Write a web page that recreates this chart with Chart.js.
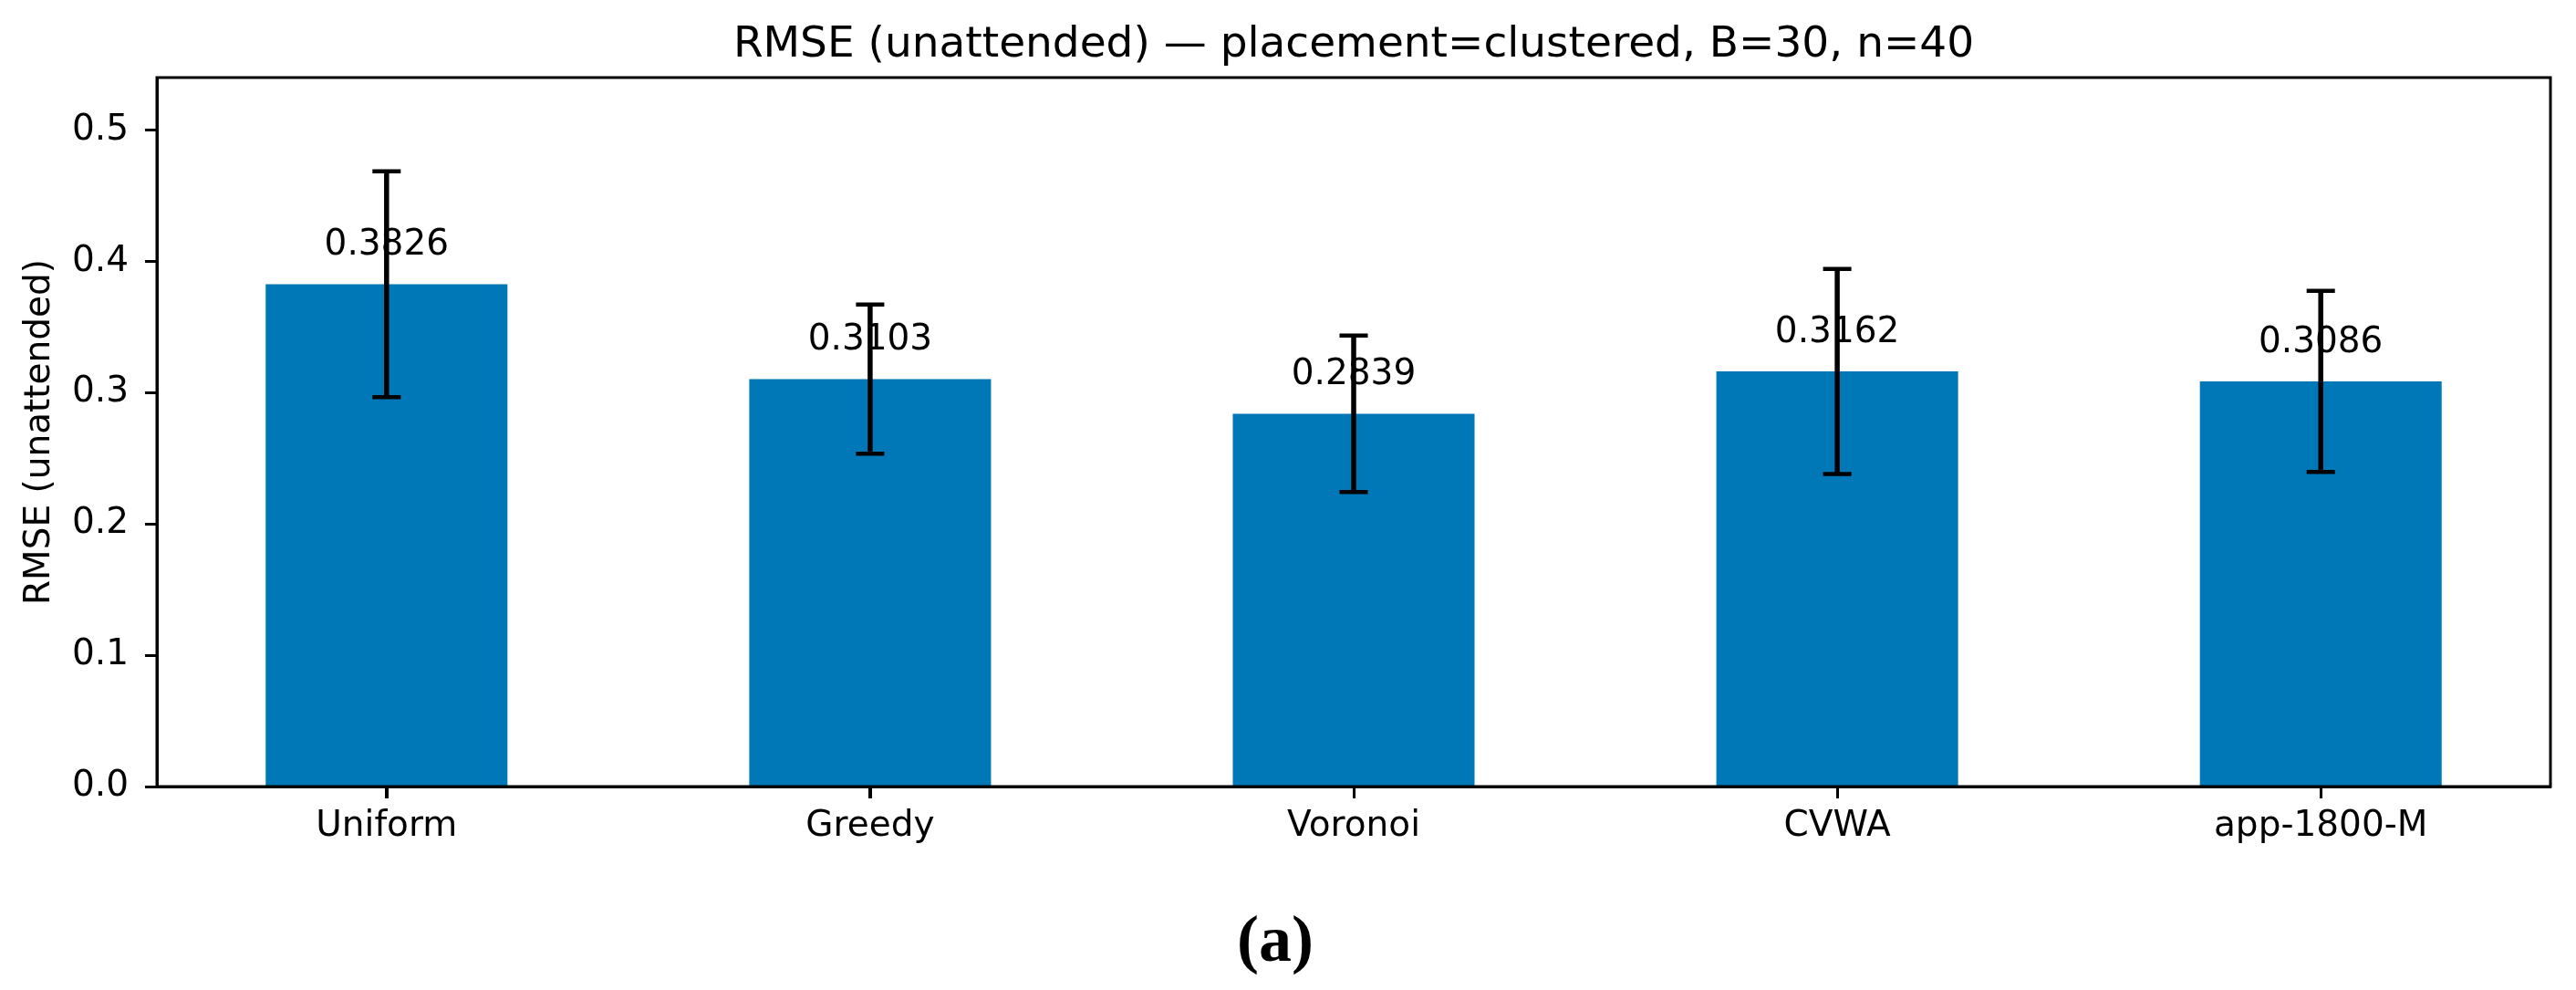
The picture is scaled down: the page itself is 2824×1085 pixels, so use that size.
<!DOCTYPE html>
<html>
<head>
<meta charset="utf-8">
<title>RMSE (unattended)</title>
<script src="https://cdn.jsdelivr.net/npm/chart.js@4.4.1/dist/chart.umd.min.js"></script>
<style>
  html, body { margin: 0; padding: 0; background: #fff; }
  canvas { display: block; }
</style>
</head>
<body>
<canvas id="rmseChart" width="2824" height="1085" style="width:2824px;height:1085px"></canvas>
<script>
// ==========================
// Data
// ==========================
const categories = ["Uniform", "Greedy", "Voronoi", "CVWA", "app-1800-M"];
const rmseValues = [0.3826, 0.3103, 0.2839, 0.3162, 0.3086];
const rmseErrors = [0.0860, 0.0568, 0.0596, 0.0781, 0.0690];
const yTicks = [0.0, 0.1, 0.2, 0.3, 0.4, 0.5];

const chartTitle = "RMSE (unattended) \u2014 placement=clustered, B=30, n=40";
const yAxisTitle = "RMSE (unattended)";
const caption = "(a)";

const SANS = "'DejaVu Sans', sans-serif";
const BAR_BLUE = "#0077b7";


// ==================================
// Frame, error bars and value labels
// ==================================
const annotatePlugin = {
    id: "annotate",
    afterDatasetsDraw(chart) {
        const { ctx, chartArea, scales } = chart;
        const xs = scales.x, ys = scales.y;

        ctx.save();

        // value labels above each bar
        ctx.fillStyle = "#000";
        ctx.font = "39px " + SANS;
        ctx.textAlign = "center";
        ctx.textBaseline = "alphabetic";
        rmseValues.forEach((v, i) => {
            ctx.fillText(v.toFixed(4), xs.getPixelForValue(i), ys.getPixelForValue(v + 0.0223));
        });

        // error bars with caps
        ctx.strokeStyle = "#000";
        rmseValues.forEach((v, i) => {
            const x = xs.getPixelForValue(i);
            const yTop = ys.getPixelForValue(v + rmseErrors[i]);
            const yBot = ys.getPixelForValue(v - rmseErrors[i]);

            ctx.lineWidth = 5.5;
            ctx.beginPath();
            ctx.moveTo(x, yTop);
            ctx.lineTo(x, yBot);
            ctx.stroke();

            ctx.lineWidth = 4.5;
            ctx.beginPath();
            ctx.moveTo(x - 15.5, yTop);
            ctx.lineTo(x + 15.5, yTop);
            ctx.moveTo(x - 15.5, yBot);
            ctx.lineTo(x + 15.5, yBot);
            ctx.stroke();
        });

        // category tick marks under the x axis
        ctx.lineWidth = 3;
        ctx.beginPath();
        categories.forEach((c, i) => {
            const x = Math.round(xs.getPixelForValue(i)) + 0.5;
            ctx.moveTo(x, chartArea.bottom);
            ctx.lineTo(x, chartArea.bottom + 13);
        });
        ctx.stroke();

        // full box around the plot, like matplotlib spines
        ctx.strokeRect(chartArea.left, chartArea.top,
                       chartArea.right - chartArea.left, chartArea.bottom - chartArea.top);

        ctx.restore();
    }
};


document.addEventListener("DOMContentLoaded", () => {
    const canvas = document.getElementById("rmseChart");

    new Chart(canvas, {
        type: "bar",
        data: {
            datasets: [{
                label: yAxisTitle,
                data: rmseValues.map((v, i) => ({ x: i, y: v })),
                backgroundColor: BAR_BLUE,
                borderWidth: 0,
                barPercentage: 0.5,
                categoryPercentage: 1.0
            }]
        },
        options: {
            responsive: false,
            devicePixelRatio: 1,
            animation: false,
            layout: { padding: { left: 0, right: 28, top: 0, bottom: 0 } },
            plugins: {
                legend: { display: false },
                tooltip: { enabled: false },
                title: {
                    display: true,
                    text: chartTitle,
                    color: "#000",
                    fullSize: false,
                    font: { family: SANS, size: 47, weight: "normal" },
                    padding: { top: 22, bottom: 6.6 }
                },
                subtitle: {
                    display: true,
                    text: caption,
                    position: "bottom",
                    color: "#000",
                    font: { family: "'Liberation Serif', 'Times New Roman', serif", size: 72, weight: "bold" },
                    padding: { top: 0, bottom: 7 }
                }
            },
            scales: {
                x: {
                    type: "linear",
                    offset: false,
                    min: -0.475,
                    max: 4.475,
                    afterBuildTicks: scale => {
                        scale.ticks = categories.map((c, i) => ({ value: i }));
                    },
                    afterFit: scale => { scale.height = 129.6; },
                    ticks: {
                        autoSkip: false,
                        maxRotation: 0,
                        minRotation: 0,
                        padding: 7,
                        color: "#000",
                        font: { family: SANS, size: 39 },
                        callback: value => categories[value]
                    },
                    grid: {
                        offset: false,
                        drawOnChartArea: false,
                        drawTicks: true,
                        tickLength: 13,
                        tickWidth: 3,
                        tickColor: "#000",
                        color: "#000"
                    },
                    border: { display: true, color: "#000", width: 3 }
                },
                y: {
                    min: 0,
                    max: 0.54,
                    afterBuildTicks: scale => {
                        scale.ticks = yTicks.map(v => ({ value: v }));
                    },
                    afterFit: scale => { scale.width = 172; },
                    ticks: {
                        padding: 18,
                        color: "#000",
                        font: { family: SANS, size: 39 },
                        callback: value => Number(value).toFixed(1)
                    },
                    grid: {
                        drawOnChartArea: false,
                        drawTicks: true,
                        tickLength: 13,
                        tickWidth: 3,
                        tickColor: "#000",
                        color: "#000"
                    },
                    border: { display: true, color: "#000", width: 3 },
                    title: {
                        display: true,
                        text: yAxisTitle,
                        color: "#000",
                        font: { family: SANS, size: 39 },
                        padding: { top: 20, bottom: 0 }
                    }
                }
            }
        },
        plugins: [annotatePlugin]
    });
});
</script>
</body>
</html>
